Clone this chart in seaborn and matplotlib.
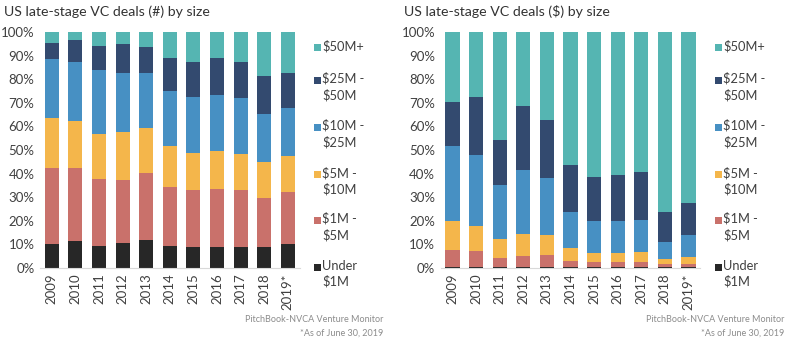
import numpy as np
import pandas as pd
import matplotlib
matplotlib.use("Agg")
import matplotlib.pyplot as plt
from matplotlib.patches import Rectangle
import seaborn as sns

sns.set_theme(style="white")
plt.rcParams['font.family'] = ['Lato', 'DejaVu Sans']

years = ["2009", "2010", "2011", "2012", "2013", "2014", "2015", "2016", "2017", "2018", "2019*"]
categories = ["Under $1M", "$1M - $5M", "$5M - $10M", "$10M - $25M", "$25M - $50M", "$50M+"]
legend_labels = ["Under\n\\$1M", "\\$1M -\n\\$5M", "\\$5M -\n\\$10M", "\\$10M -\n\\$25M", "\\$25M -\n\\$50M", "\\$50M+"]
colors = ["#272727", "#c9716b", "#f4b64b", "#4790c3", "#334a6f", "#55b5b2"]

# Deal count share (%) by size, per year
cnt_under1 = [10.1, 11.4, 9.4, 10.5, 11.8, 9.4, 8.7, 8.7, 8.7, 8.7, 9.9]
cnt_1_5 = [32.2, 31.1, 28.4, 26.7, 28.3, 24.7, 24.4, 24.8, 24.4, 21.1, 22.2]
cnt_5_10 = [21.2, 19.9, 18.9, 20.3, 19.3, 17.5, 15.5, 16.2, 15.2, 15.2, 15.3]
cnt_10_25 = [25.3, 24.8, 27.1, 25.0, 23.1, 23.5, 24.0, 23.7, 23.7, 20.3, 20.5]
cnt_25_50 = [6.8, 9.4, 10.2, 12.7, 11.1, 14.0, 14.6, 15.8, 15.5, 16.0, 14.8]
cnt_50p = [4.4, 3.4, 6.0, 4.8, 6.4, 10.9, 12.8, 10.8, 12.5, 18.7, 17.3]

# Deal value share (%) by size, per year
val_under1 = [0.2, 0.2, 0.1, 0.1, 0.1, 0.1, 0.1, 0.1, 0.1, 0.1, 0.1]
val_1_5 = [7.3, 6.9, 3.9, 4.9, 5.2, 2.7, 2.3, 2.3, 2.3, 1.3, 1.5]
val_5_10 = [12.5, 10.8, 8.1, 9.5, 8.8, 5.4, 4.0, 4.0, 4.3, 2.4, 3.1]
val_10_25 = [31.6, 29.8, 23.0, 26.8, 24.1, 15.4, 13.6, 13.3, 13.5, 7.1, 9.2]
val_25_50 = [18.6, 25.0, 19.3, 27.5, 24.7, 20.2, 18.6, 19.8, 20.4, 12.7, 13.7]
val_50p = [29.8, 27.3, 45.6, 31.2, 37.1, 56.2, 61.4, 60.5, 59.4, 76.4, 72.4]

W, H = 787, 342
fig = plt.figure(figsize=(W / 100, H / 100), dpi=100)

def px_axes(x0, y_top, x1, y_bot):
    return fig.add_axes([x0 / W, 1 - y_bot / H, (x1 - x0) / W, (y_bot - y_top) / H])

text_col = "#404040"
tick_fs = 9.5

def draw(ax, series, title, title_x, leg_x, src_right):
    df = pd.DataFrame({c: s for c, s in zip(categories, series)})
    df["year"] = years
    cum = df[categories].cumsum(axis=1)
    for i in range(len(categories) - 1, -1, -1):
        sns.barplot(x=df["year"], y=cum[categories[i]], color=colors[i],
                    width=0.6, ax=ax, saturation=1, linewidth=0, order=years)
    ax.set_xlim(-0.5, len(years) - 0.5)
    ax.set_ylim(0, 100)
    ax.set_yticks(np.arange(0, 101, 10))
    ax.set_yticklabels([f"{v}%" for v in range(0, 101, 10)], fontsize=tick_fs,
                       color=text_col)
    ax.set_xticks(range(len(years)))
    ax.set_xticklabels(years, rotation=90, fontsize=tick_fs, color=text_col)
    ax.tick_params(axis="y", length=0, pad=4)
    ax.tick_params(axis="x", length=0, pad=4)
    ax.set_xlabel("")
    ax.set_ylabel("")
    for s in ["top", "right", "left"]:
        ax.spines[s].set_visible(False)
    ax.spines["bottom"].set_color("#d9d9d9")
    ax.spines["bottom"].set_linewidth(0.8)
    fig.text(title_x / W, 1 - 12 / H, title, fontsize=10.2, color="#333333",
             ha="left", va="center")
    # legend
    ys = [267, 220, 174, 127, 80, 47]
    for i, (lab, y) in enumerate(zip(legend_labels, ys)):
        fig.patches.append(Rectangle(((leg_x) / W, 1 - (y + 3.5) / H), 6.5 / W, 6.5 / H,
                                     transform=fig.transFigure, color=colors[i], lw=0))
        fig.text((leg_x + 8) / W, 1 - (y - 7.5) / H, lab, fontsize=9.3, color=text_col,
                 ha="left", va="top", linespacing=1.35)
    fig.text(src_right / W, 1 - 320 / H, "PitchBook-NVCA Venture Monitor", fontsize=6.5,
             color="#8c8c8c", ha="right", va="center")
    fig.text(src_right / W, 1 - 333 / H, "*As of June 30, 2019", fontsize=6.5,
             color="#8c8c8c", ha="right", va="center")

ax1 = px_axes(40, 32.3, 299.6, 267.7)
draw(ax1, [cnt_under1, cnt_1_5, cnt_5_10, cnt_10_25, cnt_25_50, cnt_50p],
     "US late-stage VC deals (#) by size", 4, 314, 383)
ax2 = px_axes(440.7, 32.3, 700.3, 267.7)
draw(ax2, [val_under1, val_1_5, val_5_10, val_10_25, val_25_50, val_50p],
     "US late-stage VC deals ($) by size", 404, 715, 784)

fig.savefig("out.png", dpi=100)
